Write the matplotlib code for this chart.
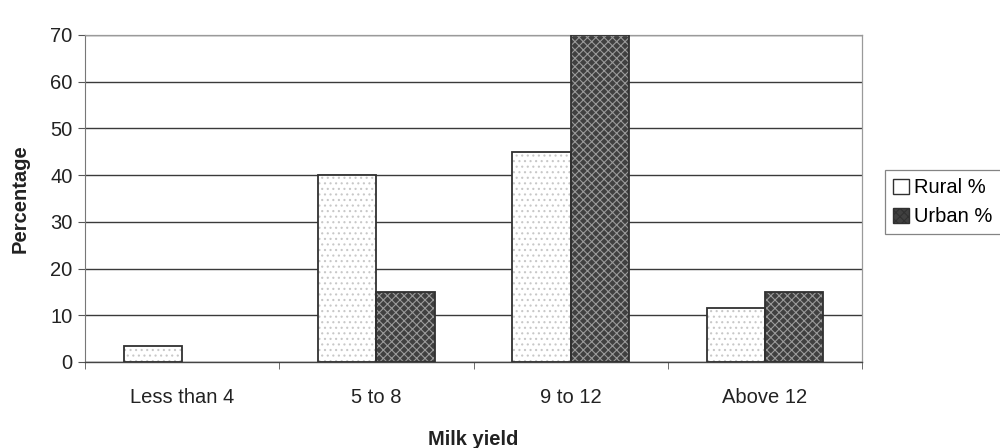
import matplotlib
matplotlib.use("Agg")
import matplotlib.pyplot as plt
import numpy as np
from matplotlib.patches import Patch

plt.rcParams['font.family'] = ['Liberation Sans', 'DejaVu Sans']

categories = ["Less than 4", "5 to 8", "9 to 12", "Above 12"]
rural = [3.5, 40, 45, 11.5]
urban = [0, 15, 70, 15]
series_names = ["Rural %", "Urban %"]
yticks = [0, 10, 20, 30, 40, 50, 60, 70]

FS = 14.5

fig = plt.figure(figsize=(10, 4.48), dpi=100)
ax = fig.add_axes([0.085, 0.192, 0.777, 0.73])

x = np.arange(len(categories))
w = 0.30

plt.rcParams['hatch.linewidth'] = 0.8

# gridlines
ax.set_axisbelow(True)
ax.yaxis.grid(True, color='#3a3a3a', linewidth=1.0)

# Rural bars: white with light dotted texture
ax.bar(x - w / 2, rural, w, color='white', hatch='...', edgecolor='#c8c8c8', linewidth=0, zorder=2)
ax.bar(x - w / 2, rural, w, facecolor='none', edgecolor='#303030', linewidth=1.3, zorder=3)
# Urban bars: dark checkered texture
ax.bar(x + w / 2, urban, w, color='#404040', hatch='xxxx', edgecolor='#9a9a9a', linewidth=0, zorder=2)
ax.bar(x + w / 2, [u if u > 0 else np.nan for u in urban], w, facecolor='none',
       edgecolor='#303030', linewidth=1.3, zorder=3)

ax.set_xlim(-0.5, len(categories) - 0.5)
ax.set_ylim(0, 70)
ax.set_yticks(yticks)
ax.set_yticklabels([str(t) for t in yticks], fontsize=FS, color='#222222')
ax.set_xticks(x)
ax.set_xticklabels(categories, fontsize=FS, color='#222222')
ax.tick_params(axis='x', which='major', length=0, pad=19)
ax.set_xticks(np.arange(len(categories) + 1) - 0.5, minor=True)
ax.tick_params(axis='x', which='minor', length=5, color='#555555', direction='out')
ax.tick_params(axis='y', length=5, color='#555555', pad=4)

for side in ['top', 'right']:
    ax.spines[side].set_color('#9a9a9a')
    ax.spines[side].set_linewidth(0.9)
ax.spines['left'].set_color('#777777')
ax.spines['bottom'].set_color('#444444')
ax.spines['bottom'].set_linewidth(1.0)

ax.set_ylabel("Percentage", fontsize=FS, fontweight='bold', color='#222222', labelpad=15)
ax.set_xlabel("Milk yield", fontsize=FS, fontweight='bold', color='#222222', labelpad=16)

handles = [
    Patch(facecolor='white', edgecolor='#303030', linewidth=1.0, label=series_names[0]),
    Patch(facecolor='#404040', edgecolor='#303030', hatch='xxxx', linewidth=1.0, label=series_names[1]),
]
leg = fig.legend(handles=handles, loc='upper left', bbox_to_anchor=(0.885, 0.62),
                 fontsize=FS, frameon=True, fancybox=False, handlelength=0.8,
                 handleheight=0.8, handletextpad=0.25, borderpad=0.4, labelspacing=0.5,
                 borderaxespad=0)
leg.get_frame().set_edgecolor('#666666')
leg.get_frame().set_linewidth(0.9)

fig.savefig("out.png", dpi=100)
